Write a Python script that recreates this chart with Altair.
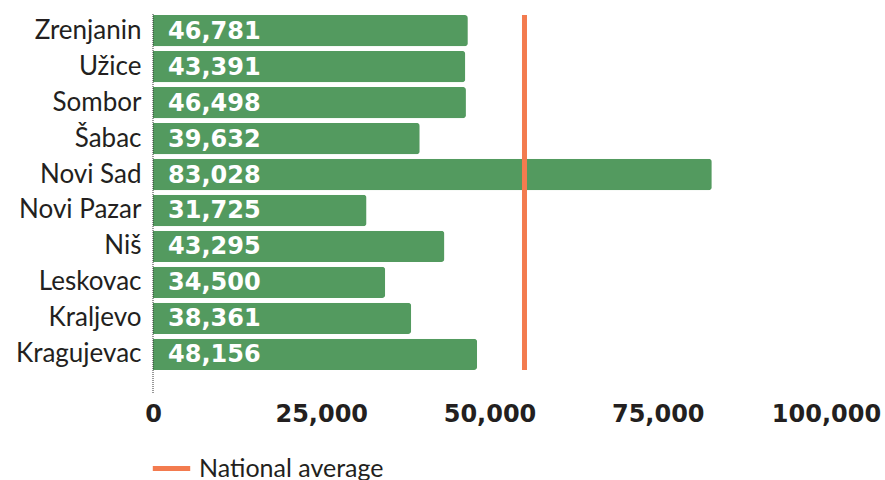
import altair as alt
import pandas as pd

cities = ["Zrenjanin", "Užice", "Sombor", "Šabac", "Novi Sad", "Novi Pazar",
          "Niš", "Leskovac", "Kraljevo", "Kragujevac"]
# printed labels
values = [46781, 43391, 46498, 39632, 83028, 31725, 43295, 34500, 38361, 48156]
# bar lengths as drawn in the picture (Užice's bar is drawn longer than its label)
bar_lengths = [46781, 46400, 46498, 39632, 83028, 31725, 43295, 34500, 38361, 48156]
national_average = 55200
legend_label = "National average"
x_ticks = [0, 25000, 50000, 75000, 100000]

df = pd.DataFrame({"city": cities, "value": values, "bar": bar_lengths})
avg_df = pd.DataFrame({"avg": [national_average], "series": [legend_label]})

GREEN = "#539a5f"
ORANGE = "#f37b4f"
TEXT = "#231f20"
FONT = "Lato"
NUMFONT = "DejaVu Sans"

y_scale = alt.Scale(paddingInner=0.13, paddingOuter=0)
y_axis = alt.Axis(domain=False, ticks=False, grid=False, labelFont=FONT, labelFontSize=26,
                  labelColor=TEXT, labelPadding=12)
x_scale = alt.Scale(domain=[0, 100000], nice=False)
x_axis = alt.Axis(values=x_ticks, format=",.0f", domain=False, ticks=False, grid=False,
                  labelFont=NUMFONT, labelFontSize=24, labelFontWeight="bold",
                  labelColor=TEXT, labelPadding=32, labelFlush=False,
                  labelOverlap=False, labelBound=False)

bars = alt.Chart(df).mark_bar(color=GREEN, cornerRadiusEnd=3).encode(
    y=alt.Y("city:N", sort=cities, title=None, scale=y_scale, axis=y_axis),
    x=alt.X("bar:Q", scale=x_scale, title=None, axis=x_axis),
)

labels = alt.Chart(df).transform_calculate(zero="0").mark_text(
    align="left", baseline="middle", dx=15, dy=1, color="white",
    font=NUMFONT, fontSize=24, fontWeight="bold"
).encode(
    y=alt.Y("city:N", sort=cities, title=None, scale=y_scale, axis=y_axis),
    x=alt.X("zero:Q", scale=x_scale, title=None, axis=x_axis),
    text=alt.Text("value:Q", format=",.0f"),
)

axis_line = alt.Chart(avg_df).mark_rule(color="#333333", strokeDash=[1, 1], strokeWidth=1).encode(
    x=alt.value(0), y=alt.value(-1), y2=alt.value(379)
)

avg_rule = alt.Chart(avg_df).mark_rule(strokeWidth=5).encode(
    x=alt.X("avg:Q", scale=x_scale, title=None, axis=x_axis),
    color=alt.Color("series:N", scale=alt.Scale(range=[ORANGE]),
                    legend=alt.Legend(title=None, orient="none", legendX=-3, legendY=432,
                                      symbolType="stroke", symbolStrokeWidth=5,
                                      symbolSize=1400, labelFont=FONT, labelFontSize=25,
                                      labelColor=TEXT, labelOffset=6, labelLimit=0)),
)

chart = alt.layer(bars, labels, avg_rule, axis_line).properties(
    width=673, height=355,
    background="white",
    autosize=alt.AutoSizeParams(type="none"),
    padding={"left": 153, "top": 15, "right": 59, "bottom": 110},
).configure_view(stroke=None)

chart.save("out.html", embed_options={"renderer": "svg", "actions": False})
